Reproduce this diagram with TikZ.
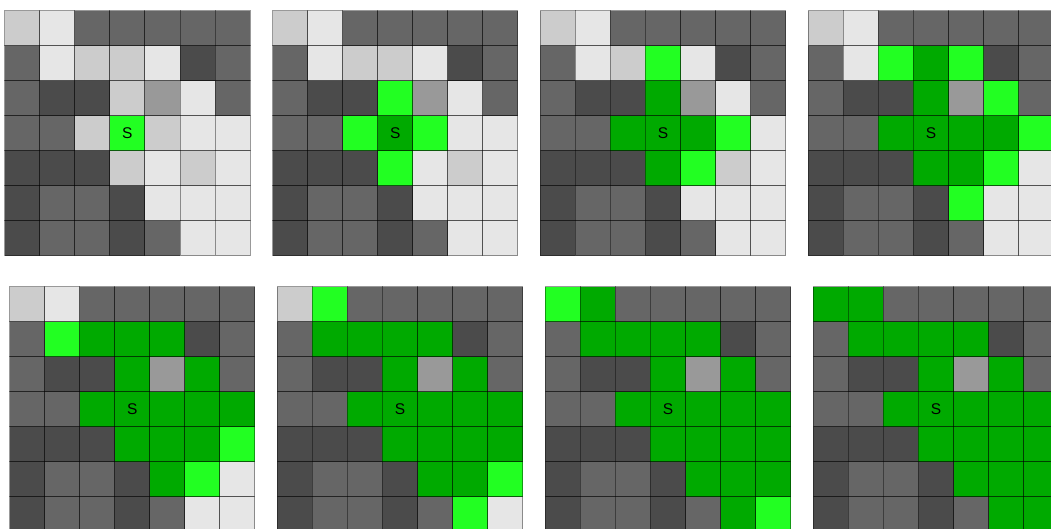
\documentclass[tikz,border=0pt]{standalone}
\usepackage{fontspec}
\setmainfont{Liberation Sans}
\usepackage{tikz}
\definecolor{cellL}{RGB}{204,204,204}
\definecolor{cellW}{RGB}{230,230,230}
\definecolor{cellM}{RGB}{102,102,102}
\definecolor{cellD}{RGB}{75,75,75}
\definecolor{cellG}{RGB}{153,153,153}
\definecolor{cellB}{RGB}{34,255,34}
\definecolor{cellK}{RGB}{0,170,0}
\newcommand{\cellsz}{35.05}
\tikzset{
  cellbox/.style={draw=black, draw opacity=0.4, line width=0.9pt},
  slabel/.style={font=\fontsize{15.5}{15.5}\selectfont, text=black, inner sep=0pt},
}
% one 7x7 panel: #1 name, #2/#3 top left corner, #4 rows of cell codes
\newcommand{\floodpanel}[4]{
  \begin{scope}[shift={(#2,#3)}]
    \foreach \rowcells [count=\ri] in {#4}{
      \foreach \cellc [count=\ci] in \rowcells{
        \filldraw[cellbox, fill=cell\cellc] ({(\ci-1)*\cellsz},{(\ri-1)*\cellsz})
          rectangle ++(\cellsz,\cellsz);
      }
    }
    \node[slabel] (#1s) at ({3.5*\cellsz},{3.5*\cellsz}) {S};
  \end{scope}
}
\begin{document}
\begin{tikzpicture}[x=1pt, y=-1pt]
  \useasboundingbox (0,0) rectangle (1051,528);
  \clip (0,0) rectangle (1051,528);
  % top row
  \floodpanel{pa}{4.7}{10.5}{{L,W,M,M,M,M,M},{M,W,L,L,W,D,M},{M,D,D,L,G,W,M},{M,M,L,B,L,W,W},{D,D,D,L,W,L,W},{D,M,M,D,W,W,W},{D,M,M,D,M,W,W}}
  \floodpanel{pb}{272.5}{10.5}{{L,W,M,M,M,M,M},{M,W,L,L,W,D,M},{M,D,D,B,G,W,M},{M,M,B,K,B,W,W},{D,D,D,B,W,L,W},{D,M,M,D,W,W,W},{D,M,M,D,M,W,W}}
  \floodpanel{pc}{540.3}{10.5}{{L,W,M,M,M,M,M},{M,W,L,B,W,D,M},{M,D,D,K,G,W,M},{M,M,K,K,K,B,W},{D,D,D,K,B,L,W},{D,M,M,D,W,W,W},{D,M,M,D,M,W,W}}
  \floodpanel{pd}{808.3}{10.5}{{L,W,M,M,M,M,M},{M,W,B,K,B,D,M},{M,D,D,K,G,B,M},{M,M,K,K,K,K,B},{D,D,D,K,K,B,W},{D,M,M,D,B,W,W},{D,M,M,D,M,W,W}}
  % bottom row
  \floodpanel{pe}{9.5}{286.5}{{L,W,M,M,M,M,M},{M,B,K,K,K,D,M},{M,D,D,K,G,K,M},{M,M,K,K,K,K,K},{D,D,D,K,K,K,B},{D,M,M,D,K,B,W},{D,M,M,D,M,W,W}}
  \floodpanel{pf}{277.3}{286.5}{{L,B,M,M,M,M,M},{M,K,K,K,K,D,M},{M,D,D,K,G,K,M},{M,M,K,K,K,K,K},{D,D,D,K,K,K,K},{D,M,M,D,K,K,B},{D,M,M,D,M,B,W}}
  \floodpanel{pg}{545.3}{286.5}{{B,K,M,M,M,M,M},{M,K,K,K,K,D,M},{M,D,D,K,G,K,M},{M,M,K,K,K,K,K},{D,D,D,K,K,K,K},{D,M,M,D,K,K,K},{D,M,M,D,M,K,B}}
  \floodpanel{ph}{813.3}{286.5}{{K,K,M,M,M,M,M},{M,K,K,K,K,D,M},{M,D,D,K,G,K,M},{M,M,K,K,K,K,K},{D,D,D,K,K,K,K},{D,M,M,D,K,K,K},{D,M,M,D,M,K,K}}
\end{tikzpicture}
\end{document}
